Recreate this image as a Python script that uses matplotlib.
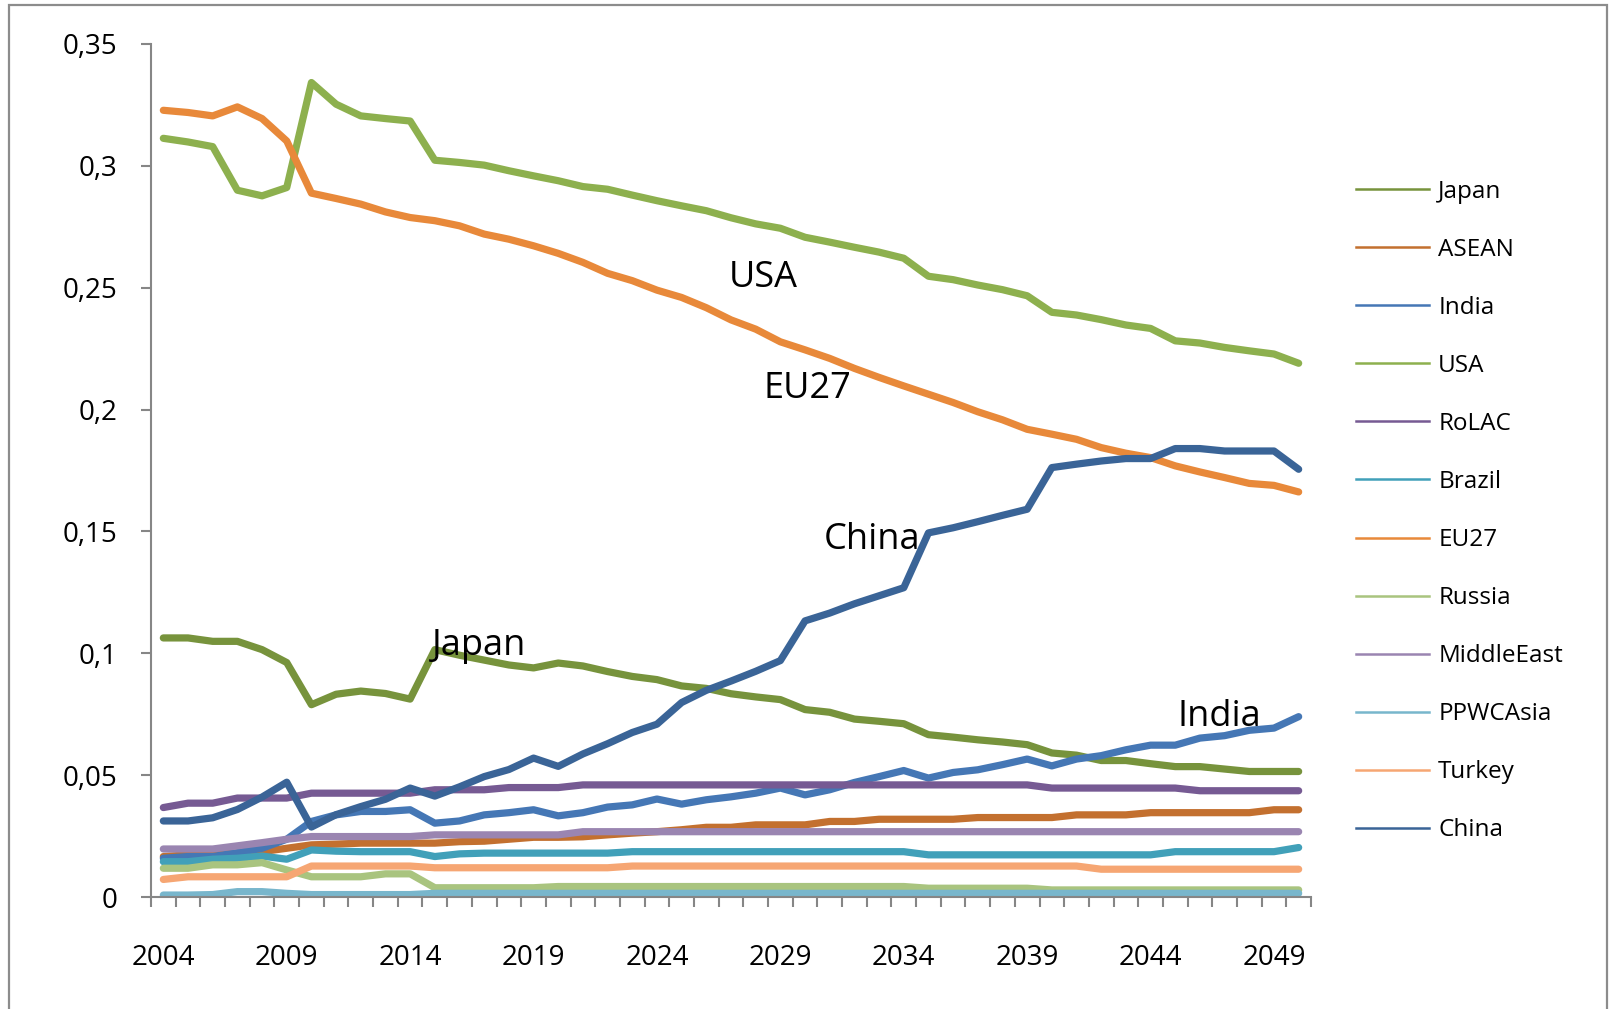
#!/usr/bin/env python
# share of world total by region, 2004-2050 (line chart, excel style)
import numpy as np
import matplotlib
matplotlib.use('Agg')
import matplotlib.pyplot as plt
from matplotlib.lines import Line2D
from matplotlib.patches import Rectangle

years = list(range(2004, 2051))

japan = [0.1063, 0.1063, 0.1049, 0.1049, 0.1015, 0.0962, 0.0789, 0.0832, 0.0845, 0.0835,
         0.0812, 0.1015, 0.0992, 0.0972, 0.0952, 0.0940, 0.0960, 0.0948, 0.0925, 0.0905,
         0.0892, 0.0866, 0.0856, 0.0834, 0.0821, 0.0810, 0.0769, 0.0758, 0.0730, 0.0721,
         0.0711, 0.0666, 0.0656, 0.0645, 0.0636, 0.0625, 0.0591, 0.0582, 0.0560, 0.0560,
         0.0547, 0.0535, 0.0535, 0.0525, 0.0515, 0.0515, 0.0515]
asean = [0.0166, 0.0173, 0.0175, 0.0180, 0.0186, 0.0200, 0.0214, 0.0217, 0.0221, 0.0221,
         0.0221, 0.0221, 0.0227, 0.0229, 0.0237, 0.0245, 0.0245, 0.0247, 0.0255, 0.0262,
         0.0268, 0.0276, 0.0286, 0.0286, 0.0296, 0.0296, 0.0296, 0.0310, 0.0310, 0.0319,
         0.0319, 0.0319, 0.0319, 0.0326, 0.0326, 0.0326, 0.0326, 0.0337, 0.0337, 0.0337,
         0.0346, 0.0346, 0.0346, 0.0346, 0.0346, 0.0358, 0.0358]
india = [0.0159, 0.0166, 0.0166, 0.0182, 0.0200, 0.0237, 0.0310, 0.0337, 0.0351, 0.0351,
         0.0358, 0.0303, 0.0312, 0.0337, 0.0346, 0.0358, 0.0333, 0.0346, 0.0369, 0.0378,
         0.0402, 0.0381, 0.0399, 0.0411, 0.0426, 0.0447, 0.0419, 0.0440, 0.0470, 0.0494,
         0.0519, 0.0488, 0.0511, 0.0522, 0.0543, 0.0566, 0.0538, 0.0566, 0.0580, 0.0604,
         0.0623, 0.0623, 0.0652, 0.0662, 0.0684, 0.0693, 0.0740]
usa = [0.3113, 0.3098, 0.3079, 0.2900, 0.2877, 0.2911, 0.3342, 0.3253, 0.3205, 0.3194,
       0.3184, 0.3023, 0.3014, 0.3003, 0.2980, 0.2959, 0.2939, 0.2915, 0.2904, 0.2880,
       0.2857, 0.2836, 0.2816, 0.2787, 0.2762, 0.2744, 0.2707, 0.2687, 0.2666, 0.2646,
       0.2621, 0.2547, 0.2533, 0.2511, 0.2492, 0.2467, 0.2399, 0.2388, 0.2369, 0.2347,
       0.2333, 0.2282, 0.2273, 0.2255, 0.2241, 0.2228, 0.2190]
rolac = [0.0367, 0.0385, 0.0385, 0.0406, 0.0406, 0.0406, 0.0426, 0.0426, 0.0426, 0.0426,
         0.0426, 0.0440, 0.0440, 0.0440, 0.0449, 0.0449, 0.0449, 0.0460, 0.0460, 0.0460,
         0.0460, 0.0460, 0.0460, 0.0460, 0.0460, 0.0460, 0.0460, 0.0460, 0.0460, 0.0460,
         0.0460, 0.0460, 0.0460, 0.0460, 0.0460, 0.0460, 0.0447, 0.0447, 0.0447, 0.0447,
         0.0447, 0.0447, 0.0436, 0.0436, 0.0436, 0.0436, 0.0436]
brazil = [0.0145, 0.0145, 0.0155, 0.0159, 0.0168, 0.0155, 0.0193, 0.0188, 0.0186, 0.0186,
          0.0186, 0.0166, 0.0177, 0.0180, 0.0180, 0.0180, 0.0180, 0.0180, 0.0180, 0.0186,
          0.0186, 0.0186, 0.0186, 0.0186, 0.0186, 0.0186, 0.0186, 0.0186, 0.0186, 0.0186,
          0.0186, 0.0173, 0.0173, 0.0173, 0.0173, 0.0173, 0.0173, 0.0173, 0.0173, 0.0173,
          0.0173, 0.0186, 0.0186, 0.0186, 0.0186, 0.0186, 0.0203]
eu27 = [0.3228, 0.3219, 0.3205, 0.3242, 0.3194, 0.3102, 0.2888, 0.2866, 0.2843, 0.2811,
        0.2788, 0.2775, 0.2754, 0.2720, 0.2699, 0.2672, 0.2641, 0.2604, 0.2559, 0.2529,
        0.2490, 0.2460, 0.2418, 0.2368, 0.2330, 0.2278, 0.2245, 0.2210, 0.2169, 0.2132,
        0.2097, 0.2063, 0.2029, 0.1991, 0.1958, 0.1919, 0.1899, 0.1878, 0.1844, 0.1821,
        0.1803, 0.1769, 0.1744, 0.1721, 0.1697, 0.1689, 0.1662]
russia = [0.0118, 0.0118, 0.0132, 0.0132, 0.0141, 0.0111, 0.0083, 0.0083, 0.0083, 0.0095,
          0.0095, 0.0038, 0.0038, 0.0038, 0.0038, 0.0038, 0.0043, 0.0043, 0.0043, 0.0043,
          0.0043, 0.0043, 0.0043, 0.0043, 0.0043, 0.0043, 0.0043, 0.0043, 0.0043, 0.0043,
          0.0043, 0.0036, 0.0036, 0.0036, 0.0036, 0.0036, 0.0029, 0.0029, 0.0029, 0.0029,
          0.0029, 0.0029, 0.0029, 0.0029, 0.0029, 0.0029, 0.0029]
middleeast = [0.0197, 0.0197, 0.0197, 0.0210, 0.0223, 0.0237, 0.0248, 0.0248, 0.0248, 0.0248,
              0.0248, 0.0255, 0.0255, 0.0255, 0.0255, 0.0255, 0.0255, 0.0268, 0.0268, 0.0268,
              0.0268, 0.0268, 0.0268, 0.0268, 0.0268, 0.0268, 0.0268, 0.0268, 0.0268, 0.0268,
              0.0268, 0.0268, 0.0268, 0.0268, 0.0268, 0.0268, 0.0268, 0.0268, 0.0268, 0.0268,
              0.0268, 0.0268, 0.0268, 0.0268, 0.0268, 0.0268, 0.0268]
ppwcasia = [0.0008, 0.0008, 0.0010, 0.0022, 0.0022, 0.0015, 0.0010, 0.0010, 0.0010, 0.0010,
            0.0010, 0.0015, 0.0015, 0.0015, 0.0015, 0.0015, 0.0015, 0.0015, 0.0015, 0.0015,
            0.0015, 0.0015, 0.0015, 0.0015, 0.0015, 0.0015, 0.0015, 0.0015, 0.0015, 0.0015,
            0.0015, 0.0015, 0.0015, 0.0015, 0.0015, 0.0015, 0.0015, 0.0015, 0.0015, 0.0015,
            0.0015, 0.0015, 0.0015, 0.0015, 0.0015, 0.0015, 0.0015]
turkey = [0.0072, 0.0083, 0.0083, 0.0083, 0.0083, 0.0083, 0.0127, 0.0127, 0.0127, 0.0127,
          0.0127, 0.0120, 0.0120, 0.0120, 0.0120, 0.0120, 0.0120, 0.0120, 0.0120, 0.0127,
          0.0127, 0.0127, 0.0127, 0.0127, 0.0127, 0.0127, 0.0127, 0.0127, 0.0127, 0.0127,
          0.0127, 0.0127, 0.0127, 0.0127, 0.0127, 0.0127, 0.0127, 0.0127, 0.0114, 0.0114,
          0.0114, 0.0114, 0.0114, 0.0114, 0.0114, 0.0114, 0.0114]
china = [0.0312, 0.0312, 0.0325, 0.0359, 0.0410, 0.0471, 0.0287, 0.0338, 0.0371, 0.0401,
         0.0447, 0.0414, 0.0452, 0.0494, 0.0523, 0.0570, 0.0536, 0.0587, 0.0629, 0.0675,
         0.0709, 0.0798, 0.0848, 0.0886, 0.0926, 0.0970, 0.1133, 0.1165, 0.1203, 0.1236,
         0.1269, 0.1494, 0.1515, 0.1540, 0.1566, 0.1591, 0.1762, 0.1776, 0.1789, 0.1799,
         0.1799, 0.1840, 0.1840, 0.1830, 0.1830, 0.1830, 0.1755]

names = ['Japan', 'ASEAN', 'India', 'USA', 'RoLAC', 'Brazil', 'EU27', 'Russia',
         'MiddleEast', 'PPWCAsia', 'Turkey', 'China']
series = [japan, asean, india, usa, rolac, brazil, eu27, russia,
          middleeast, ppwcasia, turkey, china]
colors = ['#77933C', '#C3702F', '#4577B5', '#8DB04E', '#765A93', '#41A0B9',
          '#E8893A', '#A9C47F', '#9A85B1', '#78B6CC', '#F6A673', '#3A6497']

ytick_vals = [0, 0.05, 0.1, 0.15, 0.2, 0.25, 0.3, 0.35]
ytick_labels = ['0', '0,05', '0,1', '0,15', '0,2', '0,25', '0,3', '0,35']
xlabel_years = [2004, 2009, 2014, 2019, 2024, 2029, 2034, 2039, 2044, 2049]

# labels written on the chart next to the lines
notes = [('USA', 2028.3, 0.2503), ('EU27', 2030.1, 0.2046), ('China', 2032.7, 0.1427),
         ('Japan', 2016.8, 0.0995), ('India', 2046.8, 0.0700)]

plt.rcParams['font.family'] = ['Open Sans', 'DejaVu Sans']
axcol = '#868686'

W, H = 1611, 1009
fig = plt.figure(figsize=(W / 100.0, H / 100.0), dpi=100)
ax = fig.add_axes([151.0 / W, 1 - 897.0 / H, 1160.0 / W, (897.0 - 44.0) / H])

for name, vals, c in zip(names, series, colors):
    ax.plot(years, vals, color=c, lw=5.2, solid_capstyle='round',
            solid_joinstyle='round', label=name)

ax.set_xlim(2003.5, 2050.5)
ax.set_ylim(0, 0.35)

ax.set_yticks(ytick_vals)
ax.set_yticklabels(ytick_labels)
ax.set_xticks(xlabel_years)
ax.set_xticklabels([str(y) for y in xlabel_years])
ax.set_xticks(np.arange(2003.5, 2051, 1.0), minor=True)

ax.tick_params(axis='y', which='major', length=7, width=1.5, color=axcol,
               labelsize=20, pad=17)
ax.tick_params(axis='x', which='major', length=0, labelsize=20, pad=34)
ax.tick_params(axis='x', which='minor', length=7, width=1.5, color=axcol,
               direction='out')

for s in ['top', 'right']:
    ax.spines[s].set_visible(False)
for s in ['left', 'bottom']:
    ax.spines[s].set_color(axcol)
    ax.spines[s].set_linewidth(1.5)

for txt, xx, yy in notes:
    ax.text(xx, yy, txt, fontsize=26, ha='center', va='baseline', color='black')

handles = [Line2D([0], [0], color=c, lw=1.8) for c in colors]
fig.legend(handles, names, loc='center left', bbox_to_anchor=(1356.0 / W, 1 - 511.0 / H),
           frameon=False, fontsize=17.5, handlelength=3.0, handletextpad=0.38,
           labelspacing=1.40, borderpad=0, borderaxespad=0)

# outer chart frame (bottom edge is cut off in the original)
fig.add_artist(Rectangle((9.0 / W, -0.05), (1607.0 - 9.0) / W, 1.05 - 5.0 / H,
                         transform=fig.transFigure, fill=False,
                         edgecolor='#8c8c8c', lw=1.6, clip_on=False))

plt.savefig('out.png', dpi=100)
